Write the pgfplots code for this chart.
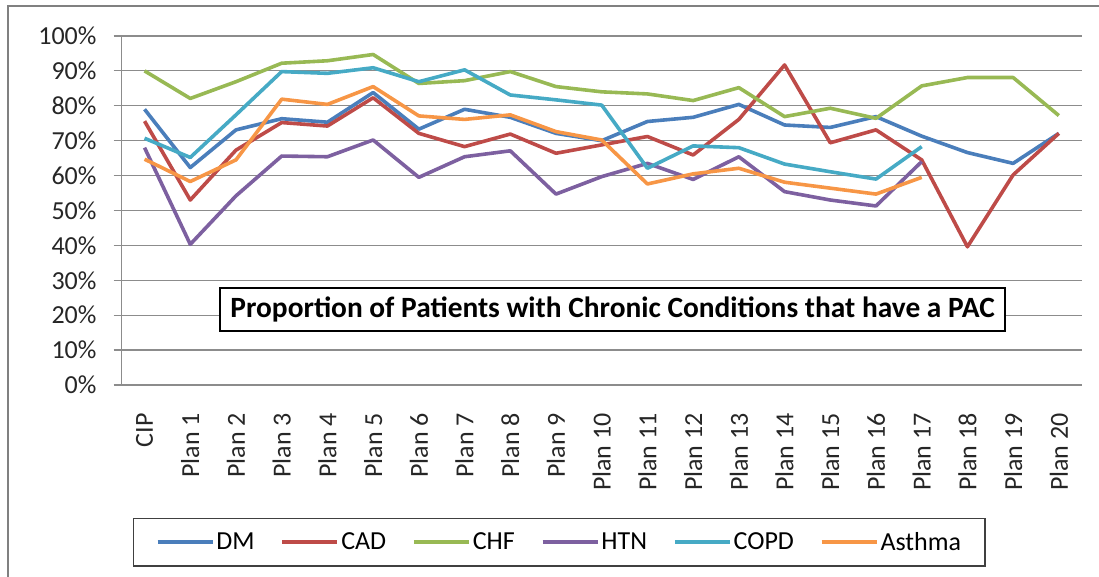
\documentclass[border=0pt]{standalone}
\usepackage{pgfplots}
\usepackage{pgfplotstable}
\pgfplotsset{compat=1.18}
\usepackage{fontspec}
\setmainfont{Carlito}
\definecolor{cDM}{HTML}{4A7EBB}
\definecolor{cCAD}{HTML}{BE4B48}
\definecolor{cCHF}{HTML}{98B954}
\definecolor{cHTN}{HTML}{7D60A0}
\definecolor{cCOPD}{HTML}{46AAC5}
\definecolor{cAST}{HTML}{F79646}
\definecolor{gridgray}{HTML}{8C8C8C}
\pgfplotstableread{
x dm cad chf htn copd asthma
0 79.0 75.6 90.0 68.0 70.7 64.7
1 62.3 53.0 82.1 40.3 65.2 58.3
2 73.1 67.3 86.9 54.2 77.4 64.5
3 76.3 75.2 92.2 65.6 89.8 81.9
4 75.3 74.2 92.9 65.4 89.3 80.4
5 83.8 82.3 94.7 70.2 90.9 85.5
6 73.3 72.1 86.4 59.5 86.9 77.1
7 79.0 68.3 87.2 65.4 90.3 76.1
8 76.7 71.9 89.8 67.1 83.1 77.4
9 72.1 66.4 85.5 54.7 81.7 72.6
10 70.0 68.8 84.0 59.7 80.2 70.2
11 75.5 71.2 83.4 63.5 62.1 57.6
12 76.7 65.9 81.5 58.9 68.5 60.5
13 80.4 76.1 85.2 65.4 68.0 62.1
14 74.5 91.7 76.9 55.4 63.3 58.1
15 73.8 69.4 79.3 53.0 61.1 56.4
16 76.9 73.1 76.4 51.3 59.0 54.7
17 71.3 64.5 85.7 64.0 68.3 59.5
18 66.6 39.6 88.1 nan nan nan
19 63.5 60.2 88.1 nan nan nan
20 72.1 72.1 77.2 nan nan nan
}\datatable
\begin{document}
\begin{tikzpicture}
\useasboundingbox (0pt,0pt) rectangle (1099pt,577pt);
\draw[gray, line width=1.8pt] (8pt,-5pt) -- (8pt,571pt) -- (1110pt,571pt);
\begin{axis}[
  at={(121.7pt,192pt)}, anchor=south west,
  scale only axis, width=960pt, height=349pt,
  xmin=-0.5, xmax=20.5, ymin=0, ymax=100,
  axis x line*=bottom, axis y line*=left,
  axis line style={gridgray, line width=1.2pt},
  ytick={0,10,...,100},
  yticklabel={\pgfmathprintnumber{\tick}\%},
  /pgf/number format/assume math mode=true,
  ymajorgrids, grid style={gridgray, line width=1.2pt},
  xtick={0,...,20},
  xticklabels={CIP,Plan 1,Plan 2,Plan 3,Plan 4,Plan 5,Plan 6,Plan 7,Plan 8,Plan 9,Plan 10,Plan 11,Plan 12,Plan 13,Plan 14,Plan 15,Plan 16,Plan 17,Plan 18,Plan 19,Plan 20},
  minor xtick={-0.5,0.5,...,20.5},
  xtick style={draw=none},
  minor x tick style={gridgray, line width=1.2pt},
  ytick style={gridgray, line width=1.2pt},
  tick align=outside, major tick length=8pt, minor tick length=8pt,
  tick label style={font=\fontsize{26}{30}\selectfont, text=black!85},
  xticklabel style={rotate=90, anchor=east, inner sep=0pt},
  yticklabel style={inner sep=0pt},
  xticklabel shift=20pt,
  yticklabel shift=17pt,
  legend style={at={(0.456,-0.4507)}, anchor=center, legend columns=6,
    draw=black!75, line width=1.2pt, inner xsep=22pt, inner ysep=12pt,
    font=\fontsize{26}{30}\selectfont,
    /tikz/every even column/.append style={column sep=24pt},
    nodes={inner xsep=2pt}},
  legend image code/.code={\draw[#1] (0pt,0pt) -- (55pt,0pt);},
  every axis plot/.append style={line width=3.6pt, line join=round},
  clip=false,
]
\addplot[cDM] table[x=x,y=dm]{\datatable};
\addplot[cCAD] table[x=x,y=cad]{\datatable};
\addplot[cCHF] table[x=x,y=chf]{\datatable};
\addplot[cHTN] table[x=x,y=htn]{\datatable};
\addplot[cCOPD] table[x=x,y=copd]{\datatable};
\addplot[cAST] table[x=x,y=asthma]{\datatable};
\legend{DM,CAD,CHF,HTN,COPD,Asthma}
\node[draw=black, line width=1.2pt, fill=white, inner sep=0pt, minimum width=785pt, minimum height=43pt,
  font=\bfseries\fontsize{29.4}{33}\selectfont] at (axis description cs:0.5113,0.2163)
  {Proportion of Patients with Chronic Conditions that have a PAC};
\end{axis}
\end{tikzpicture}
\end{document}
